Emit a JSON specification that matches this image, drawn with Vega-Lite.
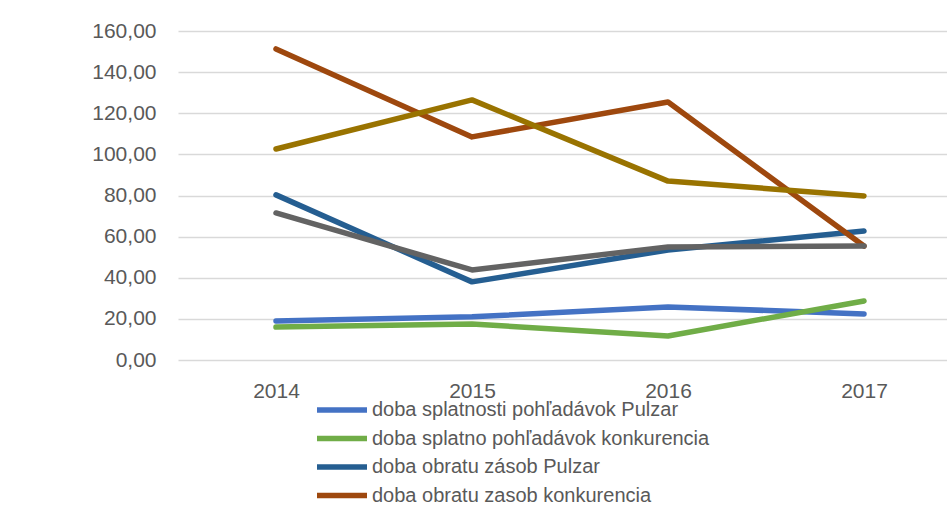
{
  "$schema": "https://vega.github.io/schema/vega-lite/v6.json",
  "autosize": "none",
  "padding": {"left": 178, "top": 31, "right": 0, "bottom": 145},
  "width": 769,
  "height": 329,
  "background": "white",
  "config": {
    "view": {"stroke": null},
    "font": "Liberation Sans",
    "axis": {"labelFont": "Liberation Sans", "labelFontSize": 21, "labelColor": "#595959"},
    "legend": {"labelFont": "Liberation Sans", "labelFontSize": 20, "labelColor": "#595959"}
  },
  "data": {
    "values": [
      {"year": 2014, "series": "doba splatnosti pohľadávok Pulzar", "value": 19.0},
      {"year": 2015, "series": "doba splatnosti pohľadávok Pulzar", "value": 21.0},
      {"year": 2016, "series": "doba splatnosti pohľadávok Pulzar", "value": 25.8},
      {"year": 2017, "series": "doba splatnosti pohľadávok Pulzar", "value": 22.4},
      {"year": 2014, "series": "doba splatno pohľadávok konkurencia", "value": 16.0},
      {"year": 2015, "series": "doba splatno pohľadávok konkurencia", "value": 17.5},
      {"year": 2016, "series": "doba splatno pohľadávok konkurencia", "value": 11.7},
      {"year": 2017, "series": "doba splatno pohľadávok konkurencia", "value": 28.7},
      {"year": 2014, "series": "doba obratu zásob Pulzar", "value": 80.3},
      {"year": 2015, "series": "doba obratu zásob Pulzar", "value": 38.0},
      {"year": 2016, "series": "doba obratu zásob Pulzar", "value": 53.5},
      {"year": 2017, "series": "doba obratu zásob Pulzar", "value": 62.7},
      {"year": 2014, "series": "doba obratu zasob konkurencia", "value": 151.3},
      {"year": 2015, "series": "doba obratu zasob konkurencia", "value": 108.5},
      {"year": 2016, "series": "doba obratu zasob konkurencia", "value": 125.5},
      {"year": 2017, "series": "doba obratu zasob konkurencia", "value": 55.4},
      {"year": 2014, "series": "doba splatnosti záväzkov Pulzar", "value": 102.6},
      {"year": 2015, "series": "doba splatnosti záväzkov Pulzar", "value": 126.5},
      {"year": 2016, "series": "doba splatnosti záväzkov Pulzar", "value": 87.0},
      {"year": 2017, "series": "doba splatnosti záväzkov Pulzar", "value": 79.8},
      {"year": 2014, "series": "doba splatnosti záväzkov konkurencia", "value": 71.5},
      {"year": 2015, "series": "doba splatnosti záväzkov konkurencia", "value": 43.8},
      {"year": 2016, "series": "doba splatnosti záväzkov konkurencia", "value": 55.0},
      {"year": 2017, "series": "doba splatnosti záväzkov konkurencia", "value": 55.4}
    ]
  },
  "mark": {"type": "line", "strokeWidth": 5.5, "strokeCap": "round", "strokeJoin": "round"},
  "encoding": {
    "x": {
      "field": "year", "type": "quantitative",
      "scale": {"domain": [2013.5, 2017.4235], "nice": false, "zero": false},
      "axis": {"title": null, "domain": false, "ticks": false, "grid": false, "values": [2014, 2015, 2016, 2017], "format": "d", "labelPadding": 20, "labelFlush": false, "labelOverlap": false}
    },
    "y": {
      "field": "value", "type": "quantitative",
      "scale": {"domain": [0, 160], "nice": false, "zero": true},
      "axis": {"title": null, "domain": false, "ticks": false, "values": [0, 20, 40, 60, 80, 100, 120, 140, 160],
        "labelExpr": "replace(format(datum.value, '.2f'), '.', ',')",
        "labelPadding": 22, "gridColor": "#D9D9D9", "gridWidth": 1.5, "labelFlush": false, "labelOverlap": false}
    },
    "color": {
      "field": "series", "type": "nominal",
      "scale": {
        "domain": ["doba splatnosti pohľadávok Pulzar", "doba splatno pohľadávok konkurencia", "doba obratu zásob Pulzar", "doba obratu zasob konkurencia", "doba splatnosti záväzkov Pulzar", "doba splatnosti záväzkov konkurencia"],
        "range": ["#4472C4", "#70AD47", "#255E91", "#9E480E", "#997300", "#636363"]
      },
      "legend": {
        "title": null, "orient": "none", "legendX": 151, "legendY": 366, "direction": "vertical",
        "symbolType": "M-2.5,0H2.5", "symbolSize": 400, "symbolStrokeWidth": 5.5, "symbolOffset": 0,
        "symbolFillColor": "transparent", "labelOffset": 17, "rowPadding": 4.5, "labelLimit": 600
      }
    }
  }
}
